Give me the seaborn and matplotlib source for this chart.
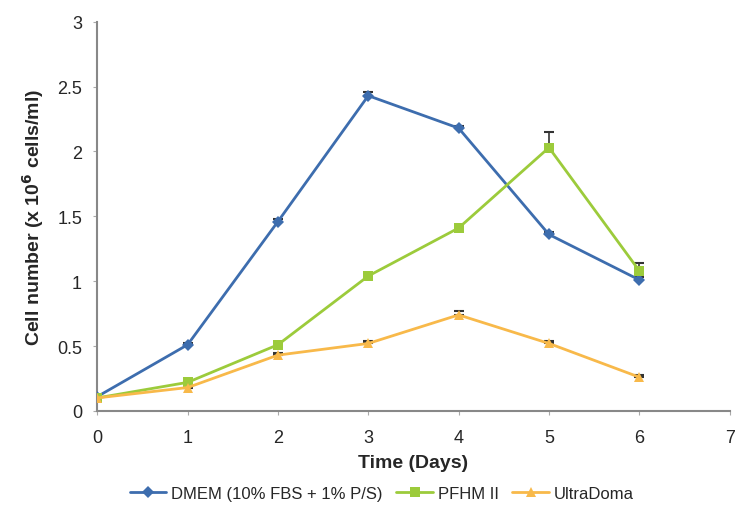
import matplotlib
matplotlib.use("Agg")
import matplotlib.pyplot as plt
import seaborn as sns
import pandas as pd
import numpy as np

days = [0, 1, 2, 3, 4, 5, 6]
dmem = [0.11, 0.51, 1.46, 2.43, 2.18, 1.36, 1.01]
dmem_err = [0.01, 0.01, 0.02, 0.03, 0.02, 0.02, 0.02]
pfhm = [0.10, 0.22, 0.51, 1.04, 1.41, 2.03, 1.08]
pfhm_err = [0.01, 0.01, 0.01, 0.02, 0.02, 0.12, 0.06]
ultra = [0.10, 0.18, 0.43, 0.52, 0.74, 0.52, 0.26]
ultra_err = [0.01, 0.01, 0.02, 0.02, 0.03, 0.02, 0.02]
labels = ["DMEM (10% FBS + 1% P/S)", "PFHM II", "UltraDoma"]

sns.set_style("white")
plt.rcParams['font.family'] = ['Liberation Sans', 'DejaVu Sans']

rows = []
for name, vals, errs in zip(labels, [dmem, pfhm, ultra], [dmem_err, pfhm_err, ultra_err]):
    for d, v, e in zip(days, vals, errs):
        rows.append({"Day": d, "Value": v, "Err": e, "Series": name})
df = pd.DataFrame(rows)

colors = {labels[0]: "#3D6DAE", labels[1]: "#9CCB3B", labels[2]: "#F8B94A"}
markers = {labels[0]: "D", labels[1]: "s", labels[2]: "^"}

fig = plt.figure(figsize=(7.37, 5.06), dpi=100)
ax = fig.add_axes([0.132, 0.186, 0.858, 0.769])

for name in labels:
    sub = df[df.Series == name]
    ax.errorbar(sub.Day, sub.Value, yerr=[np.zeros(len(sub)), sub.Err], fmt='none',
                ecolor="#333333", elinewidth=1.2, capsize=3.5, capthick=1.5, zorder=2)

sns.lineplot(data=df, x="Day", y="Value", hue="Series", style="Series",
             palette=colors, markers=markers, dashes=False, linewidth=2.0,
             markersize=6.5, markeredgewidth=0, ax=ax, zorder=3)

ax.set_xlim(0, 7)
ax.set_ylim(0, 3)
ax.set_xticks(range(0, 8))
ax.set_yticks([0, 0.5, 1, 1.5, 2, 2.5, 3])
ax.set_yticklabels(["0", "0.5", "1", "1.5", "2", "2.5", "3"])
ax.tick_params(axis='both', labelsize=13, length=3, color="#aaaaaa", direction='out',
               bottom=True, left=True)
ax.tick_params(axis='x', pad=10)
ax.tick_params(axis='y', pad=8)
for s in ["top", "right"]:
    ax.spines[s].set_visible(False)
for s in ["left", "bottom"]:
    ax.spines[s].set_color("#888888")
    ax.spines[s].set_linewidth(1.5)

ax.set_xlabel("Time (Days)", fontsize=14, fontweight="bold", labelpad=6)
ax.set_ylabel("Cell number (x 10$^\\mathbf{6}$ cells/ml)", fontsize=14, fontweight="bold", labelpad=8)

handles, lbls = ax.get_legend_handles_labels()
ax.legend(handles, lbls, loc="upper center", bbox_to_anchor=(0.45, -0.155), ncol=3,
          frameon=False, fontsize=12, handlelength=2.2, columnspacing=0.8, handletextpad=0.3)

fig.savefig("out.png", dpi=100)
